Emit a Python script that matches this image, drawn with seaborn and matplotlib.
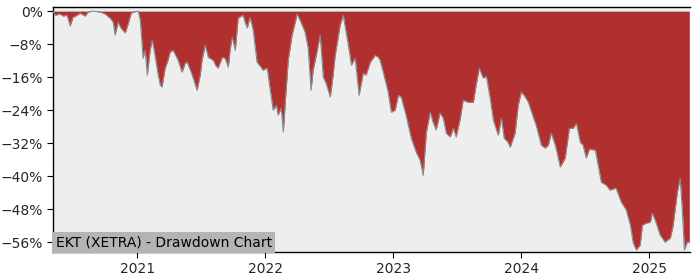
import pandas as pd
import numpy as np
import matplotlib
matplotlib.use("Agg")
import matplotlib.pyplot as plt
import matplotlib.dates as mdates
from matplotlib.ticker import PercentFormatter, MultipleLocator
import seaborn as sns

dates = [
    "2020-05-06", "2020-05-12", "2020-05-26", "2020-06-04", "2020-06-15", "2020-06-24",
    "2020-07-02", "2020-07-14", "2020-07-22", "2020-08-06", "2020-08-14", "2020-08-28",
    "2020-09-17", "2020-10-02", "2020-10-16", "2020-10-25", "2020-10-30", "2020-11-08",
    "2020-11-16", "2020-11-28", "2020-12-06", "2020-12-15", "2020-12-23", "2021-01-04",
    "2021-01-10", "2021-01-18", "2021-01-24", "2021-01-30", "2021-02-07", "2021-02-13",
    "2021-02-21", "2021-03-02", "2021-03-08", "2021-03-13", "2021-03-22", "2021-03-30",
    "2021-04-05", "2021-04-14", "2021-04-22", "2021-04-28", "2021-05-09", "2021-05-18",
    "2021-05-24", "2021-06-07", "2021-06-21", "2021-06-30", "2021-07-05", "2021-07-14",
    "2021-07-23", "2021-08-06", "2021-08-14", "2021-08-20", "2021-09-01", "2021-09-09",
    "2021-09-18", "2021-09-23", "2021-09-29", "2021-10-08", "2021-10-16", "2021-10-25",
    "2021-10-30", "2021-11-05", "2021-11-11", "2021-11-19", "2021-11-28", "2021-12-09",
    "2021-12-18", "2021-12-26", "2022-01-07", "2022-01-15", "2022-01-24", "2022-02-02",
    "2022-02-07", "2022-02-16", "2022-02-22", "2022-02-27", "2022-03-08", "2022-03-19",
    "2022-03-28", "2022-04-02", "2022-04-11", "2022-04-25", "2022-05-04", "2022-05-12",
    "2022-05-18", "2022-05-27", "2022-06-07", "2022-06-16", "2022-06-24", "2022-07-06",
    "2022-07-14", "2022-07-20", "2022-08-03", "2022-08-12", "2022-08-20", "2022-08-29",
    "2022-09-04", "2022-09-15", "2022-09-26", "2022-10-08", "2022-10-16", "2022-10-28",
    "2022-11-11", "2022-11-20", "2022-11-25", "2022-12-04", "2022-12-18", "2022-12-27",
    "2023-01-07", "2023-01-16", "2023-01-24", "2023-02-07", "2023-02-22", "2023-03-08",
    "2023-03-19", "2023-03-28", "2023-04-06", "2023-04-17", "2023-04-25", "2023-05-04",
    "2023-05-15", "2023-05-24", "2023-06-02", "2023-06-13", "2023-06-22", "2023-06-30",
    "2023-07-12", "2023-07-20", "2023-08-03", "2023-08-18", "2023-08-26", "2023-09-04",
    "2023-09-15", "2023-09-24", "2023-10-05", "2023-10-14", "2023-10-28", "2023-11-06",
    "2023-11-14", "2023-11-25", "2023-12-01", "2023-12-15", "2023-12-24", "2024-01-02",
    "2024-01-13", "2024-01-22", "2024-02-05", "2024-02-13", "2024-02-28", "2024-03-10",
    "2024-03-19", "2024-03-27", "2024-04-08", "2024-04-22", "2024-05-06", "2024-05-18",
    "2024-05-29", "2024-06-07", "2024-06-18", "2024-06-26", "2024-07-05", "2024-07-14",
    "2024-07-31", "2024-08-08", "2024-08-17", "2024-08-31", "2024-09-11", "2024-09-28",
    "2024-10-13", "2024-10-27", "2024-11-08", "2024-11-16", "2024-11-25", "2024-12-06",
    "2024-12-12", "2024-12-23", "2025-01-04", "2025-01-09", "2025-01-18", "2025-02-01",
    "2025-02-15", "2025-03-02", "2025-03-10", "2025-03-22", "2025-03-30", "2025-04-05",
    "2025-04-11", "2025-04-19", "2025-04-25",
]

drawdown = [
    0.0, -1.0, -0.7, -1.2, -1.0, -3.6,
    -1.5, -1.0, -0.5, -1.2, -0.2, 0.0,
    -0.2, -0.7, -1.7, -2.7, -5.8, -2.7,
    -4.1, -5.3, -3.2, -0.5, -0.2, 0.0,
    -2.2, -11.4, -9.5, -15.5, -9.5, -7.0,
    -10.7, -15.5, -17.9, -18.4, -13.8, -11.9,
    -9.9, -9.5, -10.9, -11.9, -14.8, -12.6,
    -12.4, -15.5, -19.2, -15.5, -11.9, -8.2,
    -11.2, -11.9, -13.3, -13.8, -11.2, -11.4,
    -13.6, -9.5, -6.3, -9.5, -1.7, -1.2,
    -1.0, -2.7, -4.1, -1.5, -4.6, -12.4,
    -13.3, -14.3, -13.8, -18.7, -24.0, -22.8,
    -25.2, -23.5, -29.3, -22.8, -11.9, -5.8,
    -2.7, -0.7, -2.2, -5.1, -9.0, -19.2,
    -14.3, -10.7, -5.8, -16.0, -17.5, -20.8,
    -15.5, -10.7, -3.4, -1.0, -5.1, -9.5,
    -13.1, -11.4, -20.4, -15.0, -15.5, -12.4,
    -10.7, -11.2, -11.9, -14.8, -19.6, -24.5,
    -24.0, -20.4, -20.8, -25.2, -30.8, -34.2,
    -36.1, -39.8, -29.3, -24.5, -26.9, -28.8,
    -24.7, -25.9, -29.6, -30.5, -28.4, -30.5,
    -25.9, -21.6, -22.1, -22.1, -17.9, -13.8,
    -16.2, -15.8, -21.1, -26.4, -30.1, -25.9,
    -30.8, -31.8, -33.0, -29.6, -22.8, -19.6,
    -20.8, -22.1, -25.7, -27.6, -32.5, -33.2,
    -32.5, -29.6, -32.5, -37.8, -35.6, -28.4,
    -28.4, -27.2, -31.8, -32.5, -35.6, -33.5,
    -33.7, -37.3, -41.5, -42.2, -43.4, -42.9,
    -46.3, -48.2, -51.9, -56.2, -57.9, -56.7,
    -51.9, -51.4, -51.2, -49.0, -50.7, -54.3,
    -56.0, -55.0, -51.9, -43.9, -40.5, -48.2,
    -57.9, -56.0, -56.0,
]

y_ticks = [0, -8, -16, -24, -32, -40, -48, -56]
title_text = "EKT (XETRA) - Drawdown Chart"

df = pd.DataFrame({"date": pd.to_datetime(dates), "dd": drawdown})

sns.set_style("ticks")
plt.rcParams["font.family"] = ["DejaVu Sans"]

fig = plt.figure(figsize=(7, 2.8), dpi=100)
ax = fig.add_axes([0.0757, 0.1, 0.91, 0.875])
ax.set_facecolor("#eeeeee")

ax.fill_between(df["date"], df["dd"], 0, color="#b03030", linewidth=0, zorder=2)
sns.lineplot(data=df, x="date", y="dd", ax=ax, color="#8a8a8a", linewidth=0.8, zorder=3)

ax.set_xlim(pd.Timestamp("2020-05-06"), pd.Timestamp("2025-04-27"))
ax.set_ylim(-58.4, 1.0)
ax.set_yticks(y_ticks)
ax.yaxis.set_major_formatter(PercentFormatter(xmax=100, decimals=0))
ax.xaxis.set_major_locator(mdates.YearLocator())
ax.xaxis.set_major_formatter(mdates.DateFormatter("%Y"))
ax.set_xlabel("")
ax.set_ylabel("")
ax.tick_params(labelsize=10, length=4, color="black")
for s in ["top", "left", "bottom"]:
    ax.spines[s].set_visible(True)
    ax.spines[s].set_color("black")
    ax.spines[s].set_linewidth(1.0)
ax.spines["right"].set_visible(False)

ax.text(0.004, 0.012, title_text, transform=ax.transAxes, fontsize=10,
        ha="left", va="bottom", color="black", zorder=5,
        bbox=dict(facecolor="#b4b4b4", edgecolor="none", pad=2.5))

fig.savefig("out.png", dpi=100)
